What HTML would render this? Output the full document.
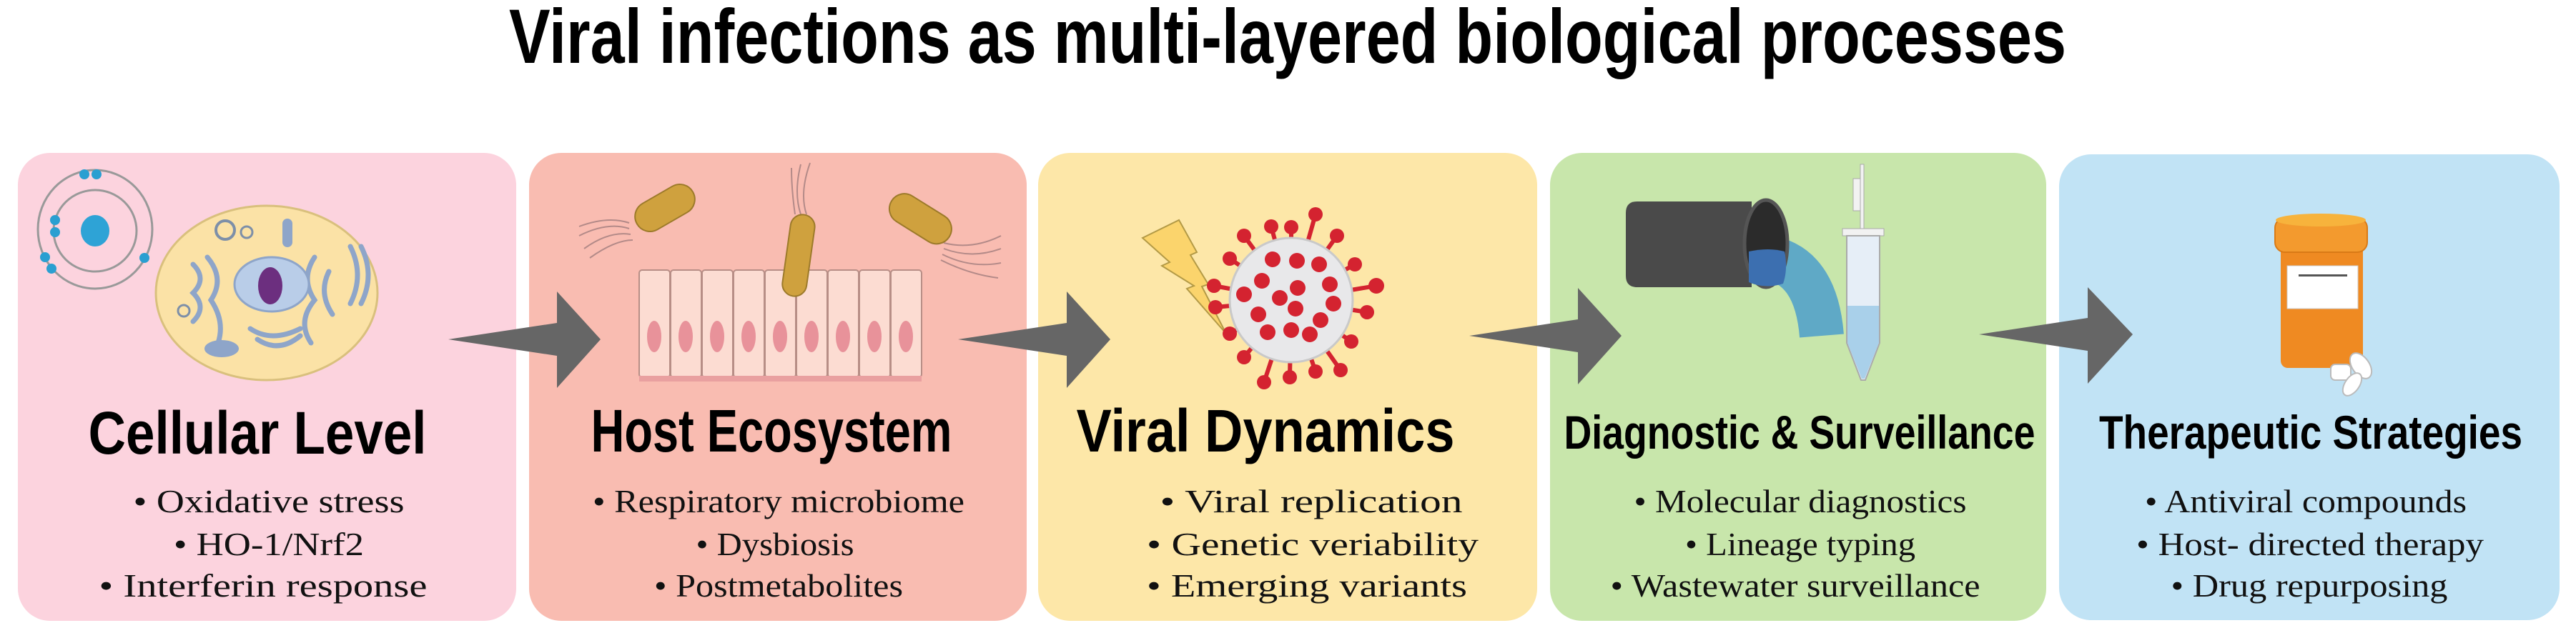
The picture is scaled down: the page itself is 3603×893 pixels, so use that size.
<!DOCTYPE html>
<html><head><meta charset="utf-8"><style>
html,body{margin:0;padding:0;background:#fff;}
svg{display:block;}
.h{font-family:"Liberation Sans",sans-serif;font-weight:bold;fill:#000;}
.b{font-family:"Liberation Serif",serif;fill:#111;font-size:46px;}
</style></head><body>
<svg width="3603" height="893" viewBox="0 0 3603 893" xmlns="http://www.w3.org/2000/svg">
<rect width="3603" height="893" fill="#fff"/>
<text class="h" x="1801" y="88" font-size="108" text-anchor="middle" textLength="2178" lengthAdjust="spacingAndGlyphs">Viral infections as multi-layered biological processes</text>

<rect x="25" y="214" width="697" height="655" rx="45" fill="#fcd3de"/>
<rect x="740" y="214" width="696" height="655" rx="45" fill="#f9bcb1"/>
<rect x="1452" y="214" width="698" height="655" rx="45" fill="#fde7a8"/>
<rect x="2168" y="214" width="694" height="655" rx="45" fill="#c8e6ab"/>
<rect x="2880" y="216" width="700" height="652" rx="45" fill="#c1e3f5"/>

<ellipse cx="133" cy="321" rx="80" ry="83" fill="none" stroke="#999" stroke-width="3"/>
<ellipse cx="133" cy="323" rx="58" ry="57" fill="none" stroke="#999" stroke-width="3"/>
<ellipse cx="133" cy="323" rx="20" ry="22" fill="#2ea3d6"/>
<g fill="#2a9fd1"><circle cx="118" cy="244" r="7"/><circle cx="135" cy="244" r="7"/><circle cx="77" cy="308" r="7"/><circle cx="77" cy="325" r="7"/><circle cx="63" cy="360" r="7"/><circle cx="72" cy="376" r="7"/><circle cx="202" cy="361" r="7"/></g>
<ellipse cx="373" cy="410" rx="155" ry="122" fill="#fbe2a6" stroke="#d9c07d" stroke-width="3"/>
<g fill="none" stroke="#8ea5c9" stroke-width="7" stroke-linecap="round">
<path d="M270 370 q20 20 0 40 q20 20 0 40"/><path d="M290 360 q25 30 5 60 q20 30 10 60"/><path d="M440 360 q-20 30 0 60 q-25 30 -5 60"/><path d="M460 380 q-15 30 5 60"/><path d="M350 460 q30 20 70 0"/><path d="M360 475 q30 20 60 -5"/><path d="M505 345 q20 40 0 80"/><path d="M490 345 q20 40 0 80"/>
</g>
<ellipse cx="380" cy="398" rx="52" ry="38" fill="#b9cde8" stroke="#8ea5c9" stroke-width="3"/>
<ellipse cx="378" cy="400" rx="17" ry="26" fill="#6c2f7f"/>
<circle cx="315" cy="322" r="13" fill="none" stroke="#7d8fa8" stroke-width="4"/>
<circle cx="345" cy="325" r="8" fill="none" stroke="#7d8fa8" stroke-width="3"/>
<rect x="395" y="306" width="14" height="40" rx="7" fill="#8ea5c9"/>
<ellipse cx="310" cy="488" rx="24" ry="12" fill="#8ea5c9"/>
<circle cx="257" cy="435" r="8" fill="none" stroke="#7d8fa8" stroke-width="3"/>

<g stroke="#b78e86" stroke-width="2" fill="#fcdcd2">
<rect x="894" y="378" width="43" height="150" rx="4"/><rect x="938" y="378" width="43" height="150" rx="4"/><rect x="982" y="378" width="43" height="150" rx="4"/><rect x="1026" y="378" width="43" height="150" rx="4"/><rect x="1070" y="378" width="43" height="150" rx="4"/><rect x="1114" y="378" width="43" height="150" rx="4"/><rect x="1158" y="378" width="43" height="150" rx="4"/><rect x="1202" y="378" width="43" height="150" rx="4"/><rect x="1246" y="378" width="43" height="150" rx="4"/>
</g>
<rect x="894" y="526" width="395" height="8" fill="#e9a0a0"/>
<g fill="#e8929a"><ellipse cx="915" cy="471" rx="10" ry="22"/><ellipse cx="959" cy="471" rx="10" ry="22"/><ellipse cx="1003" cy="471" rx="10" ry="22"/><ellipse cx="1047" cy="471" rx="10" ry="22"/><ellipse cx="1091" cy="471" rx="10" ry="22"/><ellipse cx="1135" cy="471" rx="10" ry="22"/><ellipse cx="1179" cy="471" rx="10" ry="22"/><ellipse cx="1223" cy="471" rx="10" ry="22"/><ellipse cx="1267" cy="471" rx="10" ry="22"/></g>
<g stroke="#b38a88" stroke-width="2" fill="none">
<path d="M880 320 q-30 -10 -70 10 M880 312 q-30 -10 -70 5 M882 328 q-30 -5 -65 20 M885 336 q-25 0 -60 25"/>
<path d="M1120 300 q-10 -30 0 -70 M1128 300 q-10 -30 5 -72 M1112 300 q-5 -35 -5 -65"/>
<path d="M1320 340 q40 10 80 -10 M1320 348 q40 15 80 0 M1318 356 q40 20 82 12 M1316 364 q40 20 80 25"/>
</g>
<g fill="#cfa13e" stroke="#9c7a2a" stroke-width="2">
<rect x="885" y="270" width="90" height="42" rx="21" transform="rotate(-30 930 291)"/>
<rect x="1100" y="300" width="34" height="115" rx="17" transform="rotate(8 1117 357)"/>
<rect x="1240" y="285" width="95" height="42" rx="21" transform="rotate(32 1287 306)"/>
</g>

<polygon points="1598,333 1649,308 1674,353 1665,357 1690,398 1681,401 1715,467 1660,404 1670,400 1625,372 1636,367" fill="#fbd46c" stroke="#b39a46" stroke-width="2"/>
<g stroke="#d42330" stroke-width="6" stroke-linecap="round" fill="#d42330">
<path d="M1806 420 L1806 318"/><path d="M1806 420 L1840 300"/><path d="M1806 420 L1870 330"/><path d="M1806 420 L1895 370"/><path d="M1806 420 L1925 400"/><path d="M1806 420 L1912 437"/><path d="M1806 420 L1890 478"/><path d="M1806 420 L1875 518"/><path d="M1806 420 L1840 520"/><path d="M1806 420 L1804 528"/><path d="M1806 420 L1768 535"/><path d="M1806 420 L1740 500"/><path d="M1806 420 L1720 467"/><path d="M1806 420 L1700 430"/><path d="M1806 420 L1698 400"/><path d="M1806 420 L1720 362"/><path d="M1806 420 L1740 330"/><path d="M1806 420 L1778 317"/>
</g>
<ellipse cx="1806" cy="420" rx="86" ry="87" fill="#e8e8ea" stroke="#c9c9c9" stroke-width="3"/>
<g fill="#d42330">
<circle cx="1806" cy="318" r="10"/><circle cx="1840" cy="300" r="10"/><circle cx="1870" cy="330" r="10"/><circle cx="1895" cy="370" r="10"/><circle cx="1925" cy="400" r="11"/><circle cx="1912" cy="437" r="10"/><circle cx="1890" cy="478" r="10"/><circle cx="1875" cy="518" r="10"/><circle cx="1840" cy="520" r="10"/><circle cx="1804" cy="528" r="10"/><circle cx="1768" cy="535" r="10"/><circle cx="1740" cy="500" r="10"/><circle cx="1720" cy="467" r="10"/><circle cx="1700" cy="430" r="10"/><circle cx="1698" cy="400" r="10"/><circle cx="1720" cy="362" r="10"/><circle cx="1740" cy="330" r="10"/><circle cx="1778" cy="317" r="10"/>
<circle cx="1780" cy="363" r="11"/><circle cx="1814" cy="365" r="11"/><circle cx="1845" cy="370" r="11"/><circle cx="1765" cy="393" r="11"/><circle cx="1815" cy="403" r="11"/><circle cx="1860" cy="398" r="11"/><circle cx="1740" cy="412" r="11"/><circle cx="1790" cy="417" r="11"/><circle cx="1865" cy="425" r="11"/><circle cx="1760" cy="440" r="11"/><circle cx="1812" cy="432" r="11"/><circle cx="1847" cy="448" r="11"/><circle cx="1773" cy="465" r="11"/><circle cx="1806" cy="462" r="11"/><circle cx="1832" cy="468" r="11"/>
</g>

<!-- pipe & tube -->
<path d="M2290 282 h160 v120 h-160 q-16 0 -16 -16 v-88 q0 -16 16 -16z" fill="#4a4a4a"/>
<path d="M2470 360 Q2540 370 2548 470" fill="none" stroke="#5fa9c6" stroke-width="62"/>
<ellipse cx="2470" cy="341" rx="30" ry="61" fill="#2b2b2b" stroke="#555" stroke-width="5"/>
<path d="M2446 352 q28 -6 50 0 q5 25 -2 45 q-25 8 -48 -2z" fill="#3c6fb0"/>
<rect x="2602" y="230" width="5" height="90" fill="#f2f2f2" stroke="#aaa" stroke-width="1"/>
<rect x="2592" y="250" width="10" height="45" fill="#f2f2f2" stroke="#aaa" stroke-width="1"/>
<rect x="2577" y="320" width="58" height="10" fill="#f2f2f2" stroke="#aaa" stroke-width="1"/>
<path d="M2583 330 h46 v150 l-20 52 h-6 l-20 -52z" fill="#e6eef7" stroke="#aaa" stroke-width="2"/>
<path d="M2584 428 h44 v52 l-20 50 h-4 l-20 -50z" fill="#a9d0ea"/>

<rect x="3190" y="335" width="115" height="180" rx="10" fill="#ef8a22"/>
<rect x="3182" y="305" width="129" height="48" rx="14" fill="#f39a2e" stroke="#d97a16" stroke-width="2"/>
<ellipse cx="3246" cy="308" rx="63" ry="9" fill="#f7b33c"/>
<rect x="3199" y="372" width="99" height="60" fill="#fff" stroke="#ccc" stroke-width="1"/>
<rect x="3215" y="384" width="68" height="3" fill="#555"/>
<g fill="#fff" stroke="#bbb" stroke-width="2"><rect x="3260" y="510" width="28" height="22" rx="6"/><ellipse cx="3302" cy="512" rx="12" ry="20" transform="rotate(-35 3302 512)"/><ellipse cx="3290" cy="538" rx="10" ry="18" transform="rotate(35 3290 538)"/></g>

<g fill="#666">
<polygon points="627,475 779,452 779,408 840,475 779,543 779,498"/>
<polygon points="1340,475 1492,452 1492,408 1553,475 1492,543 1492,498"/>
<polygon points="2055,470 2207,447 2207,403 2268,470 2207,538 2207,493"/>
<polygon points="2768,468 2920,445 2920,402 2983,468 2920,537 2920,491"/>
</g>

<text class="h" x="360" y="635" font-size="84" text-anchor="middle" textLength="473" lengthAdjust="spacingAndGlyphs">Cellular Level</text>
<text class="h" x="1079" y="632" font-size="84" text-anchor="middle" textLength="505" lengthAdjust="spacingAndGlyphs">Host Ecosystem</text>
<text class="h" x="1770" y="632" font-size="84" text-anchor="middle" textLength="529" lengthAdjust="spacingAndGlyphs">Viral Dynamics</text>
<text class="h" x="2517" y="628" font-size="66" text-anchor="middle" textLength="659" lengthAdjust="spacingAndGlyphs">Diagnostic &amp; Surveillance</text>
<text class="h" x="3232" y="628" font-size="66" text-anchor="middle" textLength="592" lengthAdjust="spacingAndGlyphs">Therapeutic Strategies</text>

<g class="b" text-anchor="middle">
<text x="376" y="717" textLength="379" lengthAdjust="spacingAndGlyphs">• Oxidative stress</text>
<text x="376" y="777" textLength="266" lengthAdjust="spacingAndGlyphs">• HO-1/Nrf2</text>
<text x="368" y="835" textLength="459" lengthAdjust="spacingAndGlyphs">• Interferin response</text>
<text x="1089" y="717" textLength="520" lengthAdjust="spacingAndGlyphs">• Respiratory microbiome</text>
<text x="1084" y="777" textLength="221" lengthAdjust="spacingAndGlyphs">• Dysbiosis</text>
<text x="1089" y="835" textLength="348" lengthAdjust="spacingAndGlyphs">• Postmetabolites</text>
<text x="1834" y="717" textLength="423" lengthAdjust="spacingAndGlyphs">• Viral replication</text>
<text x="1836" y="777" textLength="464" lengthAdjust="spacingAndGlyphs">• Genetic veriability</text>
<text x="1828" y="835" textLength="448" lengthAdjust="spacingAndGlyphs">• Emerging variants</text>
<text x="2518" y="717" textLength="465" lengthAdjust="spacingAndGlyphs">• Molecular diagnostics</text>
<text x="2518" y="777" textLength="322" lengthAdjust="spacingAndGlyphs">• Lineage typing</text>
<text x="2511" y="835" textLength="517" lengthAdjust="spacingAndGlyphs">• Wastewater surveillance</text>
<text x="3225" y="717" textLength="450" lengthAdjust="spacingAndGlyphs">• Antiviral compounds</text>
<text x="3231" y="777" textLength="486" lengthAdjust="spacingAndGlyphs">• Host- directed therapy</text>
<text x="3230" y="835" textLength="387" lengthAdjust="spacingAndGlyphs">• Drug repurposing</text>
</g>
</svg>
</body></html>
